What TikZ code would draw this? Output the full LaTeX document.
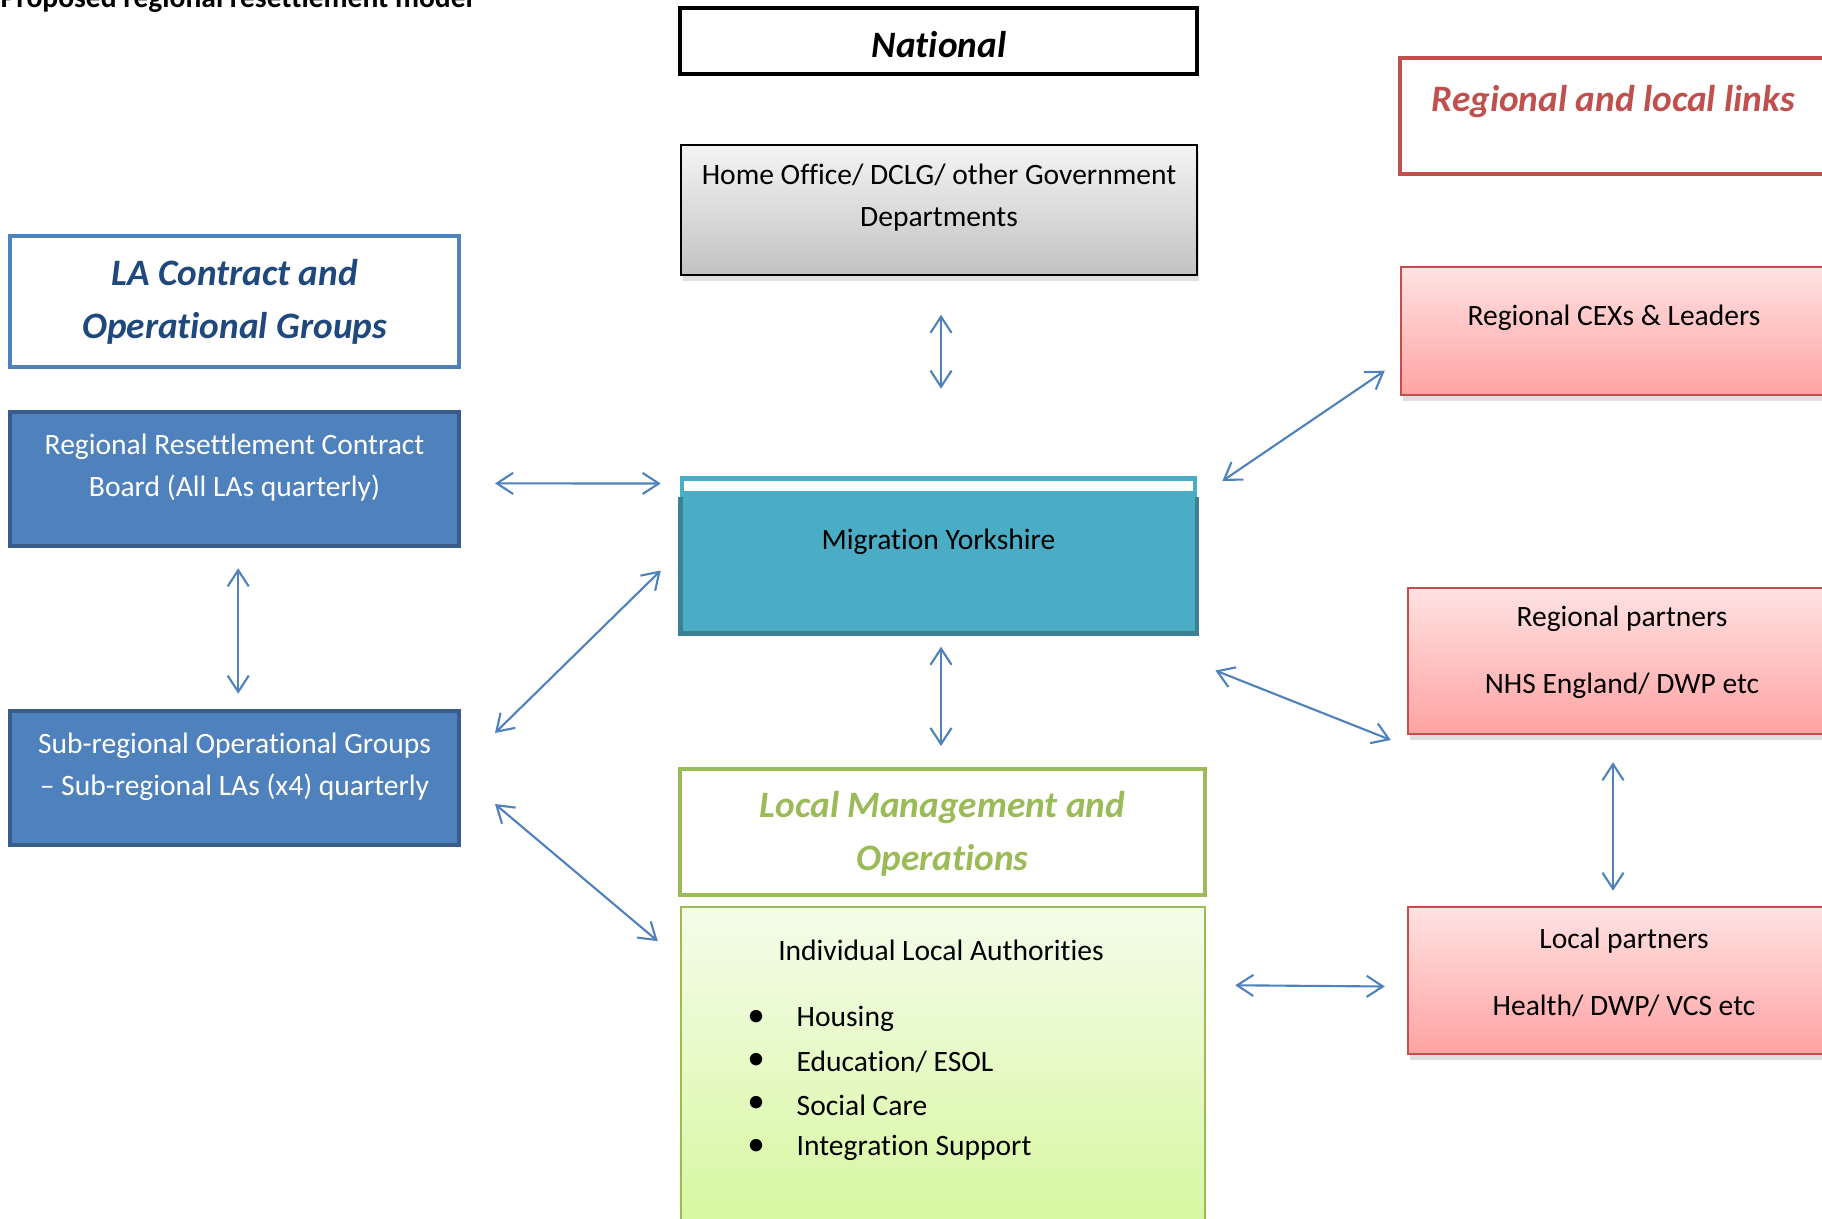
\documentclass[tikz,border=0pt]{standalone}
\usepackage{fontspec}
\setmainfont[Ligatures=NoCommon]{Carlito}
\usetikzlibrary{arrows.meta,calc,shadows}

\definecolor{linkblue}{HTML}{4F81BD}
\definecolor{headblue}{HTML}{1F497D}
\definecolor{boardblue}{HTML}{4F81BD}
\definecolor{boardedge}{HTML}{385D8A}
\definecolor{myteal}{HTML}{4BACC6}
\definecolor{myedge}{HTML}{3A8196}
\definecolor{olive}{HTML}{9BBB59}
\definecolor{limetop}{HTML}{F4FCEA}
\definecolor{limebot}{HTML}{D6F79C}
\definecolor{brick}{HTML}{C0504D}
\definecolor{pinktop}{HTML}{FFE2E2}
\definecolor{pinkbot}{HTML}{FFA3A3}
\definecolor{greytop}{HTML}{F4F4F4}
\definecolor{greybot}{HTML}{C2C2C2}

\newcommand{\bodyfont}{\fontsize{8.4}{12}\selectfont}
\newcommand{\headfont}{\fontsize{10.6}{15}\selectfont\bfseries\itshape}

\begin{document}
\begin{tikzpicture}[x=0.01cm,y=-0.01cm,
  box/.style={rectangle,inner sep=0pt},
  wh/.style 2 args={minimum width=#1*0.01cm,minimum height=#2*0.01cm},
  txt/.style={align=center,font=\bodyfont,inner sep=0pt},
  heading/.style={align=center,font=\headfont,inner sep=0pt},
  shadowed/.style={drop shadow={shadow xshift=0.5pt,shadow yshift=-1.6pt,opacity=0.25}},
  pinkbox/.style={box,top color=pinktop,bottom color=pinkbot,draw=brick,line width=0.7pt,shadowed},
  boardbox/.style={box,fill=boardblue,draw=boardedge,line width=1.3pt},
  link/.style={draw=linkblue,line width=0.6pt,
    {Straight Barb[length=4.6pt,width=6pt]}-{Straight Barb[length=4.6pt,width=6pt]}}]

\useasboundingbox (0,0) rectangle (1822,1219);

\node[anchor=base west,font=\bodyfont\bfseries,inner sep=0pt] (title) at (0,8)
  {Proposed regional resettlement model};

% national level
\node[box,wh={517}{66},draw=black,line width=1.4pt] (nat) at (938.5,41) {};
\node[heading] (nat-t) at (939,45) {National};
\node[box,wh={516}{130},top color=greytop,bottom color=greybot,draw=black,line width=0.6pt,shadowed] (ho) at (939,210) {};
\node[txt] (ho-t) at (939,198) {Home Office/ DCLG/ other Government\\Departments};

% left column
\node[box,wh={449}{131},draw=linkblue,line width=1.3pt] (lag) at (234.5,301.5) {};
\node[heading,text=headblue] (lag-t) at (234.5,302) {LA Contract and\\Operational Groups};
\node[boardbox,wh={449}{134}] (rrcb) at (234.5,479) {};
\node[txt,text=white] (rrcb-t) at (234.5,468) {Regional Resettlement Contract\\Board (All LAs quarterly)};
\node[boardbox,wh={449}{134}] (sub) at (234.5,778) {};
\node[txt,text=white] (sub-t) at (234.5,767) {Sub-regional Operational Groups\\– Sub-regional LAs (x4) quarterly};

% centre column
\node[box,wh={512}{153},fill=myteal,draw=myteal,line width=1.3pt] (my) at (938.5,554.5) {};
\draw[myedge,line width=1.3pt] ($(my.north west)+(0,21)$) -- (my.south west)
  -- (my.south east) -- ($(my.north east)+(0,21)$);
\fill[white] ($(my.north west)+(4,5)$) rectangle ($(my.north east)+(-4,15)$);
\node[txt] (my-t) at (938.5,542) {Migration Yorkshire};

\node[box,wh={525}{126},draw=olive,line width=1.3pt] (lmo) at (942.5,832) {};
\node[heading,text=olive] (lmo-t) at (942.5,834) {Local Management and\\Operations};
\node[box,wh={524}{333},top color=limetop,bottom color=limebot,draw=olive,line width=0.7pt] (ila) at (943,1073.5) {};
\node[txt] (ila-t) at (941,950) {Individual Local Authorities};
\foreach \what [count=\i] in {Housing,Education/ ESOL,Social Care,Integration Support}{
  \node[txt,font=\fontsize{10}{12}\selectfont] (ila-b\i) at (756,{1018+43*(\i-1)}) {\textbullet};
  \node[txt,anchor=west] (ila-i\i) at (796,{1019+43*(\i-1)}) {\what};
}

% right column
\node[box,wh={440}{116},draw=brick,line width=1.3pt] (rll) at (1620,116) {};
\node[heading,text=brick,anchor=west] (rll-t) at (1431,102) {Regional and local links};
\node[pinkbox,wh={427}{128}] (cex) at (1614.5,331) {};
\node[txt] (cex-t) at (1614,318) {Regional CEXs \& Leaders};
\node[pinkbox,wh={428}{146}] (rp) at (1622,661) {};
\node[txt] (rp-t) at (1622,652) {Regional partners\\[7pt]NHS England/ DWP etc};
\node[pinkbox,wh={428}{147}] (lp) at (1622,980.5) {};
\node[txt] (lp-t) at (1624,972) {Local partners\\[7pt]Health/ DWP/ VCS etc};

% links
\draw[link] ($(ho.south)+(2,38.7)$) -- ($(my.north)+(2.5,-87)$);
\draw[link] ($(rrcb.east)+(33.7,4.4)$) -- ($(my.west)+(-19.5,-71)$);
\draw[link] ($(rrcb.south)+(3.7,20)$) -- ($(sub.north)+(3.7,-15)$);
\draw[link] ($(sub.east)+(33.7,-45)$) -- ($(my.west)+(-19.5,16)$);
\draw[link] ($(sub.east)+(33.7,26)$) -- ($(ila.north west)+(-22,35.4)$);
\draw[link] ($(my.south)+(2.5,13.4)$) -- ($(lmo.north)+(-1.5,-20.7)$);
\draw[link] ($(my.east)+(25.6,-73.5)$) -- ($(cex.west)+(-15,39.7)$);
\draw[link] ($(my.east)+(18.6,116)$) -- ($(rp.west)+(-16,79)$);
\draw[link] ($(rp.south)+(-9,27)$) -- ($(lp.north)+(-9,-15)$);
\draw[link] ($(ila.north east)+(29,79.5)$) -- ($(lp.west)+(-22,6)$);

\end{tikzpicture}
\end{document}
